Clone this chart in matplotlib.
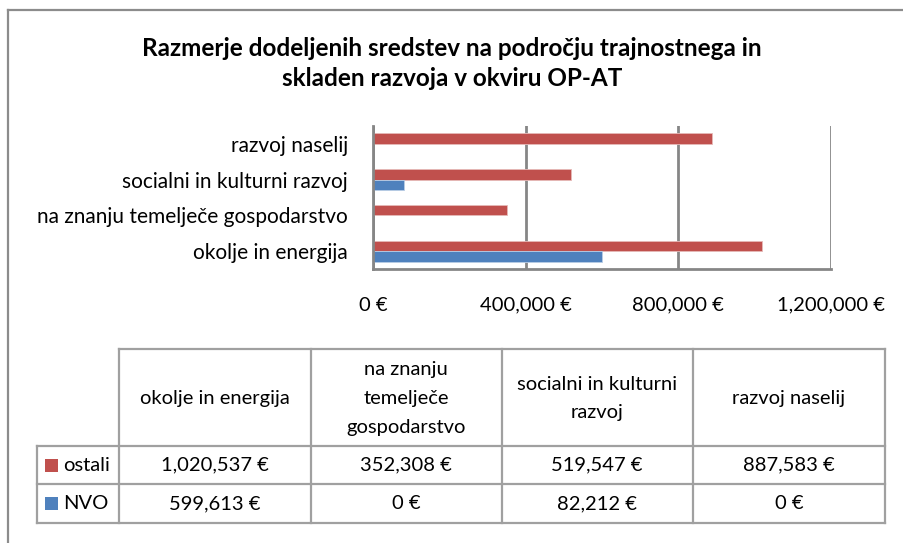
import matplotlib
matplotlib.use("Agg")
import matplotlib.pyplot as plt
from matplotlib.lines import Line2D
from matplotlib.patches import Rectangle

categories = ["okolje in energija", "na znanju temelječe gospodarstvo",
              "socialni in kulturni razvoj", "razvoj naselij"]
table_headers = ["okolje in energija", "na znanju\ntemelječe\ngospodarstvo",
                 "socialni in kulturni\nrazvoj", "razvoj naselij"]
series_names = ["ostali", "NVO"]
ostali = [1020537, 352308, 519547, 887583]
nvo = [599613, 0, 82212, 0]
x_ticks = [0, 400000, 800000, 1200000]
title = "Razmerje dodeljenih sredstev na področju trajnostnega in\nskladen razvoja v okviru OP-AT"

RED = "#C0504D"
BLUE = "#4F81BD"
GRAY = "#868686"
FONT = "Lato"
FS = 14.5

W, H = 904, 543
fig = plt.figure(figsize=(W / 100, H / 100), dpi=100)
plt.rcParams['font.family'] = [FONT, 'DejaVu Sans']


def fx(px):
    return px / W


def fy(py):
    return 1 - py / H


def eur(v):
    return f"{v:,.0f} €"


def line(x0, y0, x1, y1, color, lw):
    fig.add_artist(Line2D([fx(x0), fx(x1)], [fy(y0), fy(y1)],
                          transform=fig.transFigure, color=color, lw=lw))


# outer frame (top and left edges visible)
line(8, 9.5, 904, 9.5, "#8C8C8C", 1.6)
line(8, 9.5, 8, 543, "#8C8C8C", 1.6)

fig.text(fx(452), fy(63.5), title, ha="center", va="center",
         fontsize=17.5, fontweight="bold", linespacing=1.4, color="#000000")

left, right, top, bottom = 373, 830.7, 126, 269
ax = fig.add_axes([fx(left), fy(bottom), fx(right - left), (bottom - top) / H])
ax.set_xlim(x_ticks[0], x_ticks[-1])
ax.set_ylim(-0.5, len(categories) - 0.5)
bh = 0.294
ys = list(range(len(categories)))
ax.barh([y + bh / 2 for y in ys], ostali, height=bh, color=RED,
        edgecolor="#E6B9B8", linewidth=0.6, zorder=3)
ax.barh([y - bh / 2 for y in ys], nvo, height=bh, color=BLUE,
        edgecolor="#B9CDE5", linewidth=0.6, zorder=3)
ax.set_xticks(x_ticks)
ax.set_xticklabels([eur(v) for v in x_ticks], fontsize=FS)
ax.tick_params(axis="x", length=0, pad=20)
ax.set_yticks(ys)
ax.set_yticklabels(categories, fontsize=FS + 0.5)
ax.tick_params(axis="y", length=0, pad=18)
ax.grid(axis="x", color=GRAY, lw=2, zorder=1)
ax.grid(axis="y", visible=False)
for s in ["top", "right"]:
    ax.spines[s].set_visible(False)
for s in ["left", "bottom"]:
    ax.spines[s].set_color(GRAY)
    ax.spines[s].set_linewidth(2)
    ax.spines[s].set_zorder(4)

# data table
col_x = [119, 310.7, 501.7, 692.7, 885]
row_y = [349, 446, 484.3, 523.3]
leg_left = 37
lc = "#A0A0A0"

line(col_x[0], row_y[0], col_x[-1], row_y[0], lc, 1.6)
for ry in row_y[1:]:
    line(leg_left, ry, col_x[-1], ry, lc, 1.6)
line(leg_left, row_y[1], leg_left, row_y[3], lc, 1.6)
for x in col_x:
    line(x, row_y[0], x, row_y[3], lc, 1.6)

for i, h in enumerate(table_headers):
    cx = (col_x[i] + col_x[i + 1]) / 2
    fig.text(fx(cx), fy((row_y[0] + row_y[1]) / 2 + 1), h, ha="center",
             va="center", fontsize=FS, linespacing=1.85)

for r, (name, vals, col) in enumerate([(series_names[0], ostali, RED),
                                        (series_names[1], nvo, BLUE)]):
    yc = (row_y[r + 1] + row_y[r + 2]) / 2
    fig.add_artist(Rectangle((fx(45), fy(yc + 6.5)), fx(13), 13 / H,
                             transform=fig.transFigure, facecolor=col,
                             edgecolor="none"))
    fig.text(fx(63), fy(yc), name, ha="left", va="center", fontsize=FS)
    for i, v in enumerate(vals):
        cx = (col_x[i] + col_x[i + 1]) / 2
        fig.text(fx(cx), fy(yc), eur(v), ha="center", va="center", fontsize=FS)

fig.savefig("out.png", dpi=100)
